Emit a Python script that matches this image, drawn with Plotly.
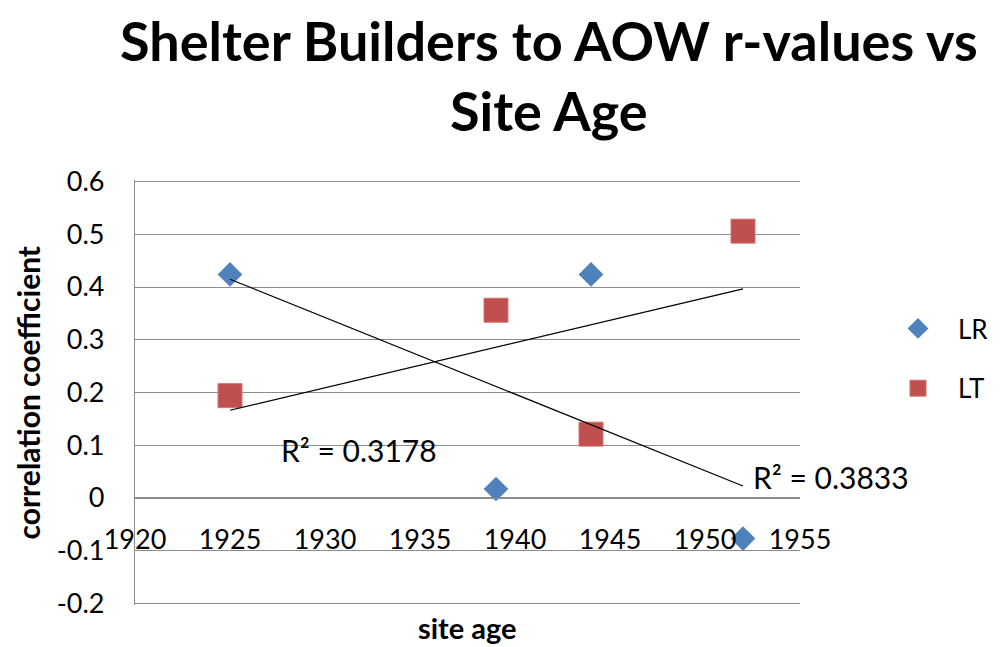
import numpy as np
import plotly.graph_objects as go

# ---- data ----
lr_years = [1925, 1939, 1944, 1952]
lr_values = [0.424, 0.017, 0.424, -0.077]
lt_years = [1925, 1939, 1944, 1952]
lt_values = [0.194, 0.356, 0.121, 0.506]
series_names = ["LR", "LT"]
r2_labels = ["R² = 0.3178", "R² = 0.3833"]
y_tickvals = [-0.2, -0.1, 0, 0.1, 0.2, 0.3, 0.4, 0.5, 0.6]
y_ticktext = ["-0.2", "-0.1", "0", "0.1", "0.2", "0.3", "0.4", "0.5", "0.6"]
x_tickvals = [1920, 1925, 1930, 1935, 1940, 1945, 1950, 1955]

FONT = "Lato"
BLUE = "#4F81BD"
RED = "#C0504D"
GRID = "#8C8C8C"

fig = go.Figure()

fig.add_trace(go.Scatter(
    x=lr_years, y=lr_values, mode="markers", name=series_names[0],
    legendgroup="lr",
    marker=dict(symbol="diamond", size=19, color=BLUE, line=dict(width=0)),
))
fig.add_trace(go.Scatter(
    x=lt_years, y=lt_values, mode="markers", name=series_names[1],
    legendgroup="lt",
    marker=dict(symbol="square", size=24, color=RED, line=dict(width=1, color="#D07471")),
))

# linear trendlines from the data
for xs, ys in [(lr_years, lr_values), (lt_years, lt_values)]:
    xs_a = np.array(xs, dtype=float)
    slope, intercept = np.polyfit(xs_a, np.array(ys, dtype=float), 1)
    tx = np.array([xs_a.min(), xs_a.max()])
    fig.add_trace(go.Scatter(
        x=tx, y=slope * tx + intercept, mode="lines", showlegend=False,
        line=dict(color="black", width=1.2), hoverinfo="skip",
    ))

fig.add_annotation(x=1927.6, y=0.091, xref="x", yref="y", text=r2_labels[0],
                   showarrow=False, xanchor="left", yanchor="middle",
                   font=dict(family=FONT, size=30, color="black"))
fig.add_annotation(x=1952.4, y=0.04, xref="x", yref="y", text=r2_labels[1],
                   showarrow=False, xanchor="left", yanchor="middle",
                   font=dict(family=FONT, size=30, color="black"))

# axis titles
fig.add_annotation(x=0.5, y=-0.0541, xref="paper", yref="paper", text="site age",
                   showarrow=False, xanchor="center", yanchor="middle",
                   font=dict(family=FONT, size=29, color="black", weight="bold"))
fig.add_annotation(x=-0.1624, y=0.5, xref="paper", yref="paper",
                   text="correlation coefficient", textangle=-90,
                   showarrow=False, xanchor="center", yanchor="middle",
                   font=dict(family=FONT, size=30, color="black", weight="bold"))

fig.update_layout(
    width=996, height=639,
    margin=dict(l=127, r=204, t=172, b=42, autoexpand=False),
    paper_bgcolor="white", plot_bgcolor="white",
    font=dict(family=FONT, color="black"),
    title=dict(text="Shelter Builders to AOW r-values vs<br>Site Age",
               x=0.543, xanchor="center", xref="container",
               y=0.9166, yanchor="top", yref="container",
               font=dict(family=FONT, size=54, color="black", weight="bold")),
    xaxis=dict(range=[1920, 1955], tickvals=x_tickvals, showgrid=False,
               zeroline=False, showline=True, linecolor=GRID, linewidth=1.2,
               anchor="free", position=0.203 / 0.806, ticks="", ticklabelstandoff=18,
               tickfont=dict(family=FONT, size=27, color="black")),
    yaxis=dict(range=[-0.203, 0.603], tickvals=y_tickvals, ticktext=y_ticktext,
               showgrid=True, gridcolor=GRID, gridwidth=1.2, zeroline=False,
               showline=True, linecolor=GRID, linewidth=1.2, ticks="",
               ticklabelstandoff=24,
               tickfont=dict(family=FONT, size=27, color="black")),
    legend=dict(x=1.1173, xanchor="left", y=0.58, yanchor="middle",
                font=dict(family=FONT, size=26, color="black"),
                tracegroupgap=23, itemwidth=70, bgcolor="rgba(0,0,0,0)"),
    showlegend=True,
)

fig.write_html("out.html")
